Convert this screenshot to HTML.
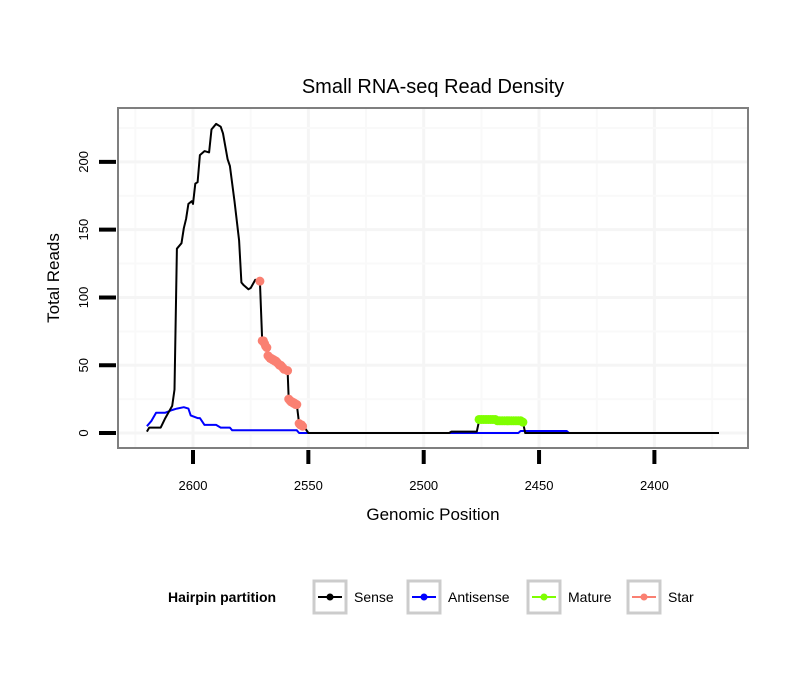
<!DOCTYPE html>
<html><head><meta charset="utf-8"><style>
body{margin:0;background:#fff;}
svg{display:block;font-family:"Liberation Sans",sans-serif;}
</style></head><body>
<svg id="chart" width="810" height="690" viewBox="0 0 810 690" xmlns="http://www.w3.org/2000/svg">
<text x="433" y="93" font-size="20" text-anchor="middle">Small RNA-seq Read Density</text>
<rect x="118" y="108" width="630" height="340" fill="#fff"/>
<g id="grid"></g>
<g id="series"></g>
<rect x="118" y="108" width="630" height="340" fill="none" stroke="#7f7f7f" stroke-width="2"/>
<g id="axes"></g>
<text x="433" y="520" font-size="17" text-anchor="middle">Genomic Position</text>
<text transform="translate(59,278) rotate(-90)" font-size="17" text-anchor="middle">Total Reads</text>
<g>
<text x="168" y="602" font-size="14" font-weight="bold">Hairpin partition</text>
<g><rect x="314" y="581" width="32" height="32" fill="#fff" stroke="#cccccc" stroke-width="3"/><line x1="318" y1="597" x2="342" y2="597" stroke="#000" stroke-width="2"/><circle cx="330" cy="597" r="3.5" fill="#000"/><text x="354" y="602" font-size="14">Sense</text></g>
<g><rect x="408" y="581" width="32" height="32" fill="#fff" stroke="#cccccc" stroke-width="3"/><line x1="412" y1="597" x2="436" y2="597" stroke="#0000ff" stroke-width="2"/><circle cx="424" cy="597" r="3.5" fill="#0000ff"/><text x="448" y="602" font-size="14">Antisense</text></g>
<g><rect x="528" y="581" width="32" height="32" fill="#fff" stroke="#cccccc" stroke-width="3"/><line x1="532" y1="597" x2="556" y2="597" stroke="#7fff00" stroke-width="2"/><circle cx="544" cy="597" r="3.5" fill="#7fff00"/><text x="568" y="602" font-size="14">Mature</text></g>
<g><rect x="628" y="581" width="32" height="32" fill="#fff" stroke="#cccccc" stroke-width="3"/><line x1="632" y1="597" x2="656" y2="597" stroke="#fa8072" stroke-width="2"/><circle cx="644" cy="597" r="3.5" fill="#fa8072"/><text x="668" y="602" font-size="14">Star</text></g>
</g>
</svg>
<script>
const xTicks=[2600,2550,2500,2450,2400];
const yTicks=[0,50,100,150,200];
const sensePos=[2620,2619,2614,2612,2609,2608,2607,2605,2604,2603,2602,2600.5,2600,2599,2598,2597,2595,2593,2592,2591,2590,2588,2587,2585,2584,2582,2580,2579,2578,2576,2575,2573,2571];
const senseVal=[1,4,4,11,20,32,136,140,151,158,169,171,169,184,185,205,208,207,224,226,228,226,221,202,197,171,142,111,109,106,107,113,112];
const starPos=[2571,2570,2569.5,2569,2568.5,2568,2567.5,2567,2566.5,2566,2565.5,2565,2564.5,2564,2563.5,2563,2562.5,2562,2561.5,2561,2560.5,2559,2558.5,2558,2557.5,2557,2556.5,2556,2555.5,2555,2554,2553.5,2553,2552.5];
const starVal=[112,68,68,66,64,63,57,56,55,55,54,54,53,53,52,51,50,50,49,48,47,46,25,24,23,23,22,22,21,21,7,6,6,5];
const tailPos=[2552,2550,2489,2488,2477,2476];
const tailVal=[5,0,0,1,1,9];
const maturePos=[2476,2475,2474,2473,2472,2471,2470,2469,2468,2467,2466,2465,2464,2463,2462,2461,2460,2459,2458,2457];
const matureVal=[10,10,10,10,10,10,10,10,9,9,9,9,9,9,9,9,9,9,9,8];
const endPos=[2457,2456,2372];
const endVal=[8,0,0];
const antiPos=[2620,2619,2618,2616,2612,2609,2607,2604,2602,2601,2598,2597,2595,2590,2588,2584,2583,2555,2554,2459,2458,2438,2437,2372];
const antiVal=[5,7,9,15,15,17,18,19,18,13,11,11,6,6,4,4,2,2,0,0,1.5,1.5,0,0];
const NS="http://www.w3.org/2000/svg";
const X=v=>193+(2600-v)*2.307;
const Y=v=>433-v*1.3555;
function mk(t,a,p){const e=document.createElementNS(NS,t);for(const k in a)e.setAttribute(k,a[k]);p.appendChild(e);return e;}
const grid=document.getElementById('grid'),axes=document.getElementById('axes'),ser=document.getElementById('series');
for(let i=0;i<xTicks.length;i++){
  const g=mk('line',{x1:X(xTicks[i]),x2:X(xTicks[i]),y1:108,y2:448,stroke:'#f5f5f5','stroke-width':3},grid);
  
  
  const m=xTicks[i]+25;
  const gm=mk('line',{x1:X(m),x2:X(m),y1:108,y2:448,stroke:'#f9f9f9','stroke-width':2},grid);
  
  
  const t=mk('line',{x1:X(xTicks[i]),x2:X(xTicks[i]),y1:450,y2:464,stroke:'#000','stroke-width':4},axes);
  
  
  const l=mk('text',{x:X(xTicks[i]),y:490,'font-size':13,'text-anchor':'middle'},axes);
  
  
  l.textContent=xTicks[i];
}
{const gm=mk('line',{x1:X(2375),x2:X(2375),y1:108,y2:448,stroke:'#f9f9f9','stroke-width':2},grid);

}
for(let i=0;i<yTicks.length;i++){
  const g=mk('line',{x1:118,x2:748,y1:Y(yTicks[i]),y2:Y(yTicks[i]),stroke:'#f5f5f5','stroke-width':3},grid);
  
  
  const gm=mk('line',{x1:118,x2:748,y1:Y(yTicks[i]+25),y2:Y(yTicks[i]+25),stroke:'#f9f9f9','stroke-width':2},grid);
  
  
  const t=mk('line',{x1:99,x2:116,y1:Y(yTicks[i]),y2:Y(yTicks[i]),stroke:'#000','stroke-width':4},axes);
  
  
  const l=mk('text',{transform:`translate(88,${Y(yTicks[i])}) rotate(-90)`,'font-size':13,'text-anchor':'middle'},axes);
  
  
  l.textContent=yTicks[i];
}
function line(P,V,col,w,name){
  const d=P.map((p,i)=>(i?'L':'M')+X(p).toFixed(1)+','+Y(V[i]).toFixed(1)).join('');
  const e=mk('path',{d:d,fill:'none',stroke:col,'stroke-width':w,'stroke-linejoin':'round'},ser);
  
  
}
function pts(P,V,col,r,name){
  for(let i=0;i<P.length;i++){
    const c=mk('circle',{cx:X(P[i]),cy:Y(V[i]),r:r,fill:col},ser);
    
    
  }
}
line(antiPos,antiVal,'#0000ff',2,'antisense-line');
line(sensePos,senseVal,'#000',2,'sense-line');
line(starPos,starVal,'#000',2,'star-line');
line(tailPos,tailVal,'#000',2,'sense-tail-line');
line(endPos,endVal,'#000',2,'sense-end-line');
line(maturePos,matureVal,'#7fff00',5,'mature-line');
pts(starPos,starVal,'#fa8072',4.5,'star-point');
pts(maturePos,matureVal,'#7fff00',4.5,'mature-point');
</script>
</body></html>
